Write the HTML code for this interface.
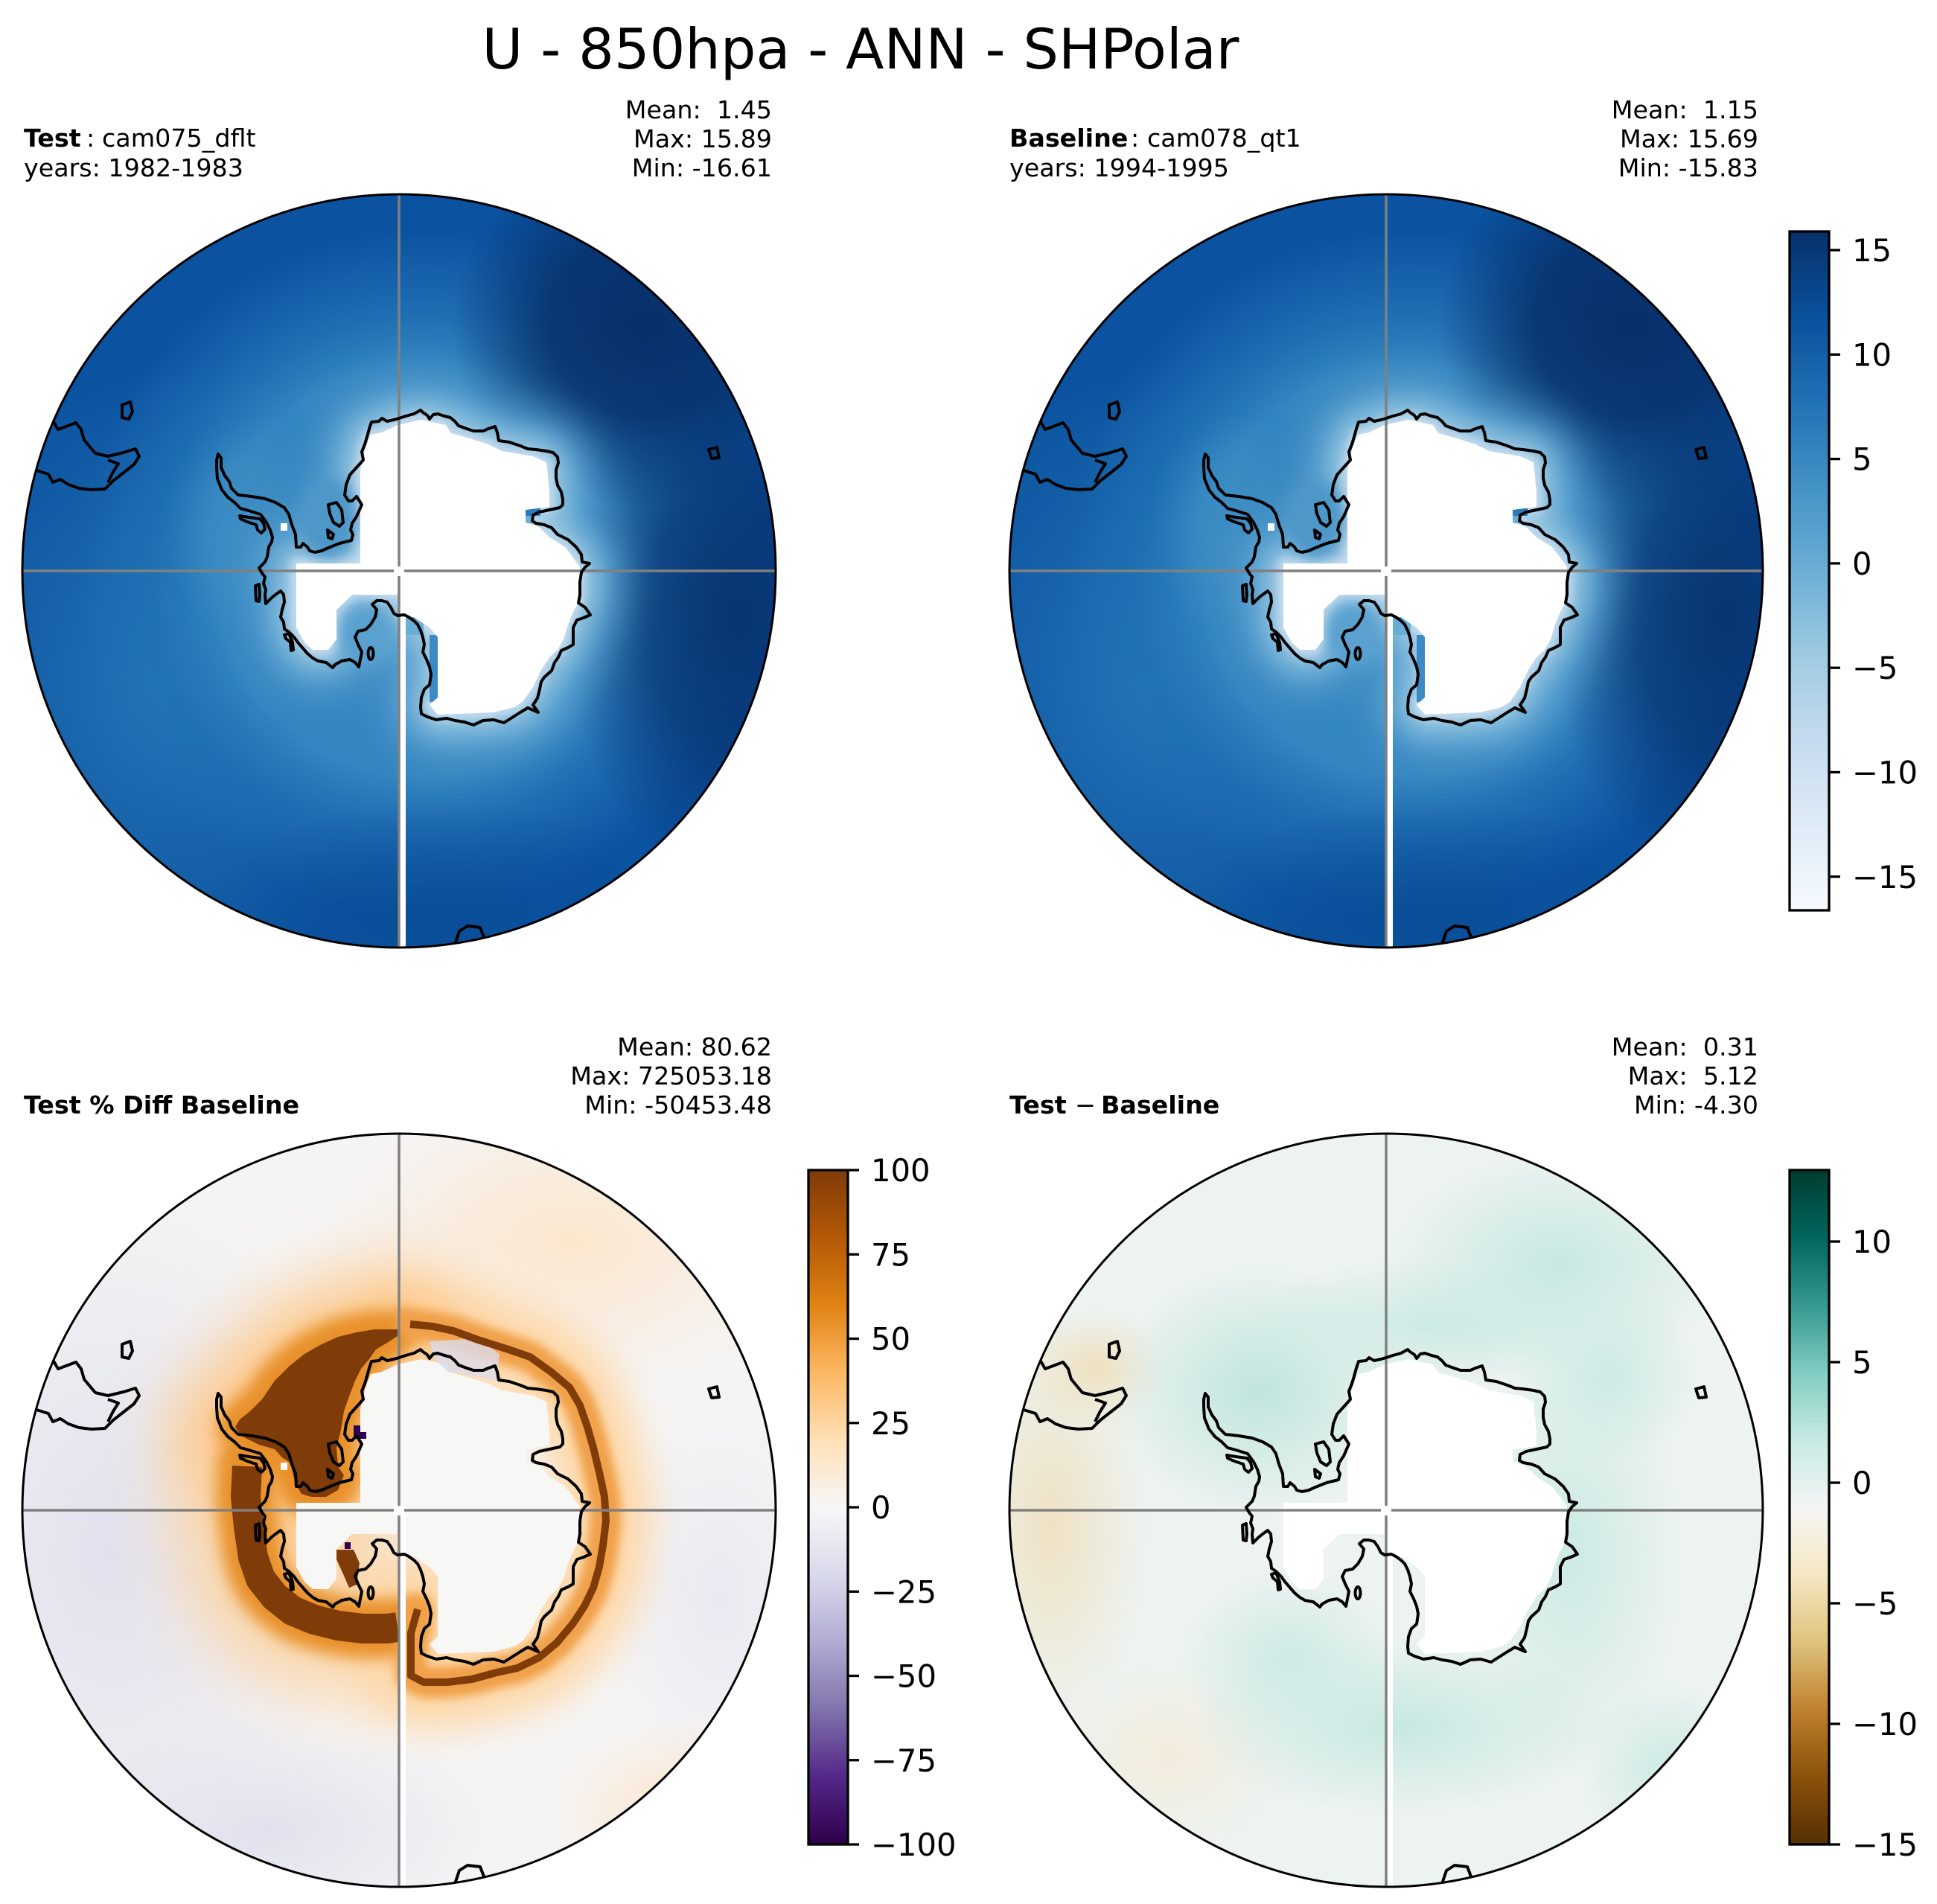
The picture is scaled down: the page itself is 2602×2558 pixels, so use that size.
<!DOCTYPE html>
<html><head><meta charset="utf-8">
<style>
html,body{margin:0;padding:0;background:#fff;}
svg{display:block;}
text{font-family:"DejaVu Sans","Liberation Sans",sans-serif;fill:#000;}
</style></head><body>
<svg width="2602" height="2558" viewBox="0 0 2602 2558" xmlns="http://www.w3.org/2000/svg" xmlns:xlink="http://www.w3.org/1999/xlink">
<defs>
<clipPath id="cc"><circle cx="0" cy="0" r="506"/></clipPath>
<filter id="bl6" filterUnits="userSpaceOnUse" x="-700" y="-700" width="1400" height="1400"><feGaussianBlur stdDeviation="6"/></filter>
<filter id="bl10" filterUnits="userSpaceOnUse" x="-700" y="-700" width="1400" height="1400"><feGaussianBlur stdDeviation="10"/></filter>
<filter id="bl18" filterUnits="userSpaceOnUse" x="-700" y="-700" width="1400" height="1400"><feGaussianBlur stdDeviation="18"/></filter>
<filter id="bl25" filterUnits="userSpaceOnUse" x="-700" y="-700" width="1400" height="1400"><feGaussianBlur stdDeviation="25"/></filter>
<filter id="bl28" filterUnits="userSpaceOnUse" x="-700" y="-700" width="1400" height="1400"><feGaussianBlur stdDeviation="28"/></filter>
<filter id="bl45" filterUnits="userSpaceOnUse" x="-700" y="-700" width="1400" height="1400"><feGaussianBlur stdDeviation="45"/></filter>

<radialGradient id="gL"><stop offset="0" stop-color="#2676b8" stop-opacity="0.95"/><stop offset="1" stop-color="#2676b8" stop-opacity="0"/></radialGradient>
<radialGradient id="gMed"><stop offset="0" stop-color="#3485c0"/><stop offset="0.6" stop-color="#3485c0"/><stop offset="0.8" stop-color="#2171b5" stop-opacity="0.7"/><stop offset="1" stop-color="#2171b5" stop-opacity="0"/></radialGradient>
<radialGradient id="gD"><stop offset="0" stop-color="#08306b"/><stop offset="0.5" stop-color="#08306b" stop-opacity="0.85"/><stop offset="1" stop-color="#08306b" stop-opacity="0"/></radialGradient>
<radialGradient id="gD2"><stop offset="0" stop-color="#08336f" stop-opacity="0.95"/><stop offset="0.5" stop-color="#08336f" stop-opacity="0.7"/><stop offset="1" stop-color="#08336f" stop-opacity="0"/></radialGradient>
<radialGradient id="gD3"><stop offset="0" stop-color="#0a4c96" stop-opacity="0.8"/><stop offset="1" stop-color="#0a4c96" stop-opacity="0"/></radialGradient>

<radialGradient id="gTan"><stop offset="0" stop-color="#efe2c4"/><stop offset="1" stop-color="#efe2c4" stop-opacity="0"/></radialGradient>
<radialGradient id="gTan2"><stop offset="0" stop-color="#efe0c0"/><stop offset="1" stop-color="#efe0c0" stop-opacity="0"/></radialGradient>
<radialGradient id="gTan3"><stop offset="0" stop-color="#f3ecdc"/><stop offset="1" stop-color="#f3ecdc" stop-opacity="0"/></radialGradient>
<radialGradient id="gTeal"><stop offset="0" stop-color="#c0e5dd"/><stop offset="1" stop-color="#c0e5dd" stop-opacity="0"/></radialGradient>
<radialGradient id="gTeal2"><stop offset="0" stop-color="#c7e8e1"/><stop offset="1" stop-color="#c7e8e1" stop-opacity="0"/></radialGradient>
<radialGradient id="gTeal3"><stop offset="0" stop-color="#cdeae4"/><stop offset="1" stop-color="#cdeae4" stop-opacity="0"/></radialGradient>

<radialGradient id="gLav"><stop offset="0" stop-color="#e1e1ee"/><stop offset="1" stop-color="#e1e1ee" stop-opacity="0"/></radialGradient>
<radialGradient id="gLav2"><stop offset="0" stop-color="#eae9f2"/><stop offset="1" stop-color="#eae9f2" stop-opacity="0"/></radialGradient>
<radialGradient id="gPeach"><stop offset="0" stop-color="#fce6cd"/><stop offset="1" stop-color="#fce6cd" stop-opacity="0"/></radialGradient>

<linearGradient id="cbBlues" x1="0" y1="1" x2="0" y2="0">
<stop offset="0" stop-color="#f7fbff"/><stop offset="0.125" stop-color="#deebf7"/><stop offset="0.25" stop-color="#c6dbef"/><stop offset="0.375" stop-color="#9ecae1"/><stop offset="0.5" stop-color="#6baed6"/><stop offset="0.625" stop-color="#4292c6"/><stop offset="0.75" stop-color="#2171b5"/><stop offset="0.875" stop-color="#08519c"/><stop offset="1" stop-color="#08306b"/>
</linearGradient>
<linearGradient id="cbPuOr" x1="0" y1="1" x2="0" y2="0">
<stop offset="0" stop-color="#2d004b"/><stop offset="0.1" stop-color="#542788"/><stop offset="0.2" stop-color="#8073ac"/><stop offset="0.3" stop-color="#b2abd2"/><stop offset="0.4" stop-color="#d8daeb"/><stop offset="0.5" stop-color="#f7f7f7"/><stop offset="0.6" stop-color="#fee0b6"/><stop offset="0.7" stop-color="#fdb863"/><stop offset="0.8" stop-color="#e08214"/><stop offset="0.9" stop-color="#b35806"/><stop offset="1" stop-color="#7f3b08"/>
</linearGradient>
<linearGradient id="cbBrBG" x1="0" y1="1" x2="0" y2="0">
<stop offset="0" stop-color="#543005"/><stop offset="0.1" stop-color="#8c510a"/><stop offset="0.2" stop-color="#bf812d"/><stop offset="0.3" stop-color="#dfc27d"/><stop offset="0.4" stop-color="#f6e8c3"/><stop offset="0.5" stop-color="#f5f5f5"/><stop offset="0.6" stop-color="#c7eae5"/><stop offset="0.7" stop-color="#80cdc1"/><stop offset="0.8" stop-color="#35978f"/><stop offset="0.9" stop-color="#01665e"/><stop offset="1" stop-color="#003c30"/>
</linearGradient>

<polygon id="coast" points="-243,-157 -239,-152 -239,-139 -234,-128 -228,-120 -225,-111 -216,-102 -198,-100 -180,-97 -166,-92 -154,-85 -148,-76 -144,-62 -139,-49 -138,-32 -132,-32 -129,-37 -123,-32 -120,-27 -113,-25 -104,-27 -95,-31 -80,-37 -64,-41 -62,-49 -65,-55 -63,-64 -57,-73 -50,-89 -57,-100 -63,-94 -68,-94 -73,-102 -71,-116 -66,-129 -57,-139 -48,-149 -50,-160 -46,-170 -43,-180 -40,-191 -37,-200 -27,-201 -23,-205 -16,-201 -7,-203 0,-205 9,-208 20,-211 29,-216 32,-213 38,-209 41,-204 46,-210 52,-211 61,-208 69,-206 75,-201 80,-195 91,-191 100,-188 113,-188 120,-191 129,-194 132,-186 134,-175 148,-173 163,-168 173,-164 184,-163 198,-161 207,-159 213,-153 214,-145 211,-136 211,-125 213,-115 218,-106 220,-96 220,-89 216,-85 202,-82 188,-79 180,-75 179,-67 184,-64 195,-62 205,-58 213,-49 227,-42 238,-32 245,-22 246,-12 256,-10 250,-5 245,2 243,15 243,32 241,43 250,49 257,59 248,63 239,66 234,76 234,89 234,99 227,103 218,107 214,116 209,123 205,134 195,143 191,149 189,159 186,171 180,180 187,190 173,184 163,190 152,197 141,204 127,200 113,201 100,207 88,203 75,201 64,198 50,200 38,196 30,192 29,183 30,170 34,159 41,153 43,139 41,129 37,119 32,109 34,99 32,89 29,80 25,72 20,67 13,62 7,59 -2,60 -7,57 -11,49 -16,42 -23,40 -30,40 -36,45 -30,52 -32,62 -38,72 -45,79 -55,81 -59,89 -55,99 -50,109 -52,119 -54,129 -59,123 -66,119 -77,121 -86,126 -89,130 -98,123 -109,121 -116,117 -123,111 -130,103 -136,96 -141,89 -148,82 -154,78 -155,69 -159,62 -157,52 -154,42 -155,32 -159,27 -166,32 -171,36 -179,44 -180,32 -179,25 -182,17 -180,8 -184,3 -188,-4 -180,-12 -177,-19 -175,-32 -171,-39 -170,-45 -173,-55 -178,-65 -186,-76 -202,-81 -213,-84 -221,-92 -230,-99 -238,-109 -244,-124 -245,-139 -245,-149"/>

<polygon id="maskp" points="-52,-136 -45,-166 -38,-183 -23,-186 -2,-196 30,-203 63,-196 70,-185 95,-178 120,-170 138,-161 180,-154 198,-146 202,-106 202,-86 170,-82 170,-65 188,-59 202,-45 223,-32 238,-12 243,-5 241,42 234,55 227,72 221,92 213,106 202,116 191,133 180,156 166,176 155,183 127,190 52,193 41,180 52,170 52,89 41,76 30,69 20,62 9,62 9,2 -2,2 -2,32 -63,32 -73,42 -84,52 -84,92 -95,106 -116,106 -127,96 -138,76 -138,-10 -52,-10"/>

<polyline id="ringLB" points="-204,-59 -206,-18 -202,22 -196,63 -186,92 -167,116 -143,135 -114,147 -82,155 -49,159 -16,159 -2,157"/>
<polyline id="ringR" points="15,-250 45,-247 73,-241 106,-229 147,-216 176,-206 204,-186 229,-165 243,-141 253,-112 261,-84 269,-51 276,-18 278,14 274,47 269,76 261,104 249,129 233,153 212,178 188,198 159,212 131,218 98,227 65,231 33,231 16,222 16,165 25,133"/>
<polygon id="blob" points="-33,-243 -2,-243 -2,-234 -16,-225 -31,-216 -41,-202 -51,-190 -59,-174 -67,-153 -74,-133 -78,-108 -84,-84 -82,-59 -74,-47 -82,-27 -98,-18 -118,-18 -131,-22 -139,-35 -143,-51 -145,-63 -157,-71 -167,-82 -188,-88 -212,-100 -220,-112 -214,-122 -200,-133 -184,-149 -167,-174 -147,-194 -127,-210 -106,-222 -82,-233 -57,-239"/>

<g id="over">
  <rect x="1" y="0" width="8" height="520" fill="#fff"/>
  <line x1="-520" y1="0" x2="520" y2="0" stroke="#808080" stroke-width="3.5"/>
  <line x1="0" y1="-520" x2="0" y2="520" stroke="#808080" stroke-width="3.5"/>
  <rect x="-7" y="-6" width="14" height="13" fill="#fff"/>
  <g fill="none" stroke="#000" stroke-width="4" stroke-linejoin="round">
    <use href="#coast" xlink:href="#coast"/>
    <polygon points="-214,-74 -202,-72 -187,-70 -182,-64 -180,-56 -185,-51 -190,-55 -192,-62 -204,-66 -213,-70"/>
    <polygon points="-95,-89 -84,-92 -77,-82 -75,-65 -80,-60 -88,-65 -93,-77"/>
    <polygon points="-96,-55 -88,-49 -90,-43 -95,-45"/>
    <polygon points="-193,20 -188,18 -187,32 -188,41 -192,40"/>
    <polygon points="-154,86 -148,84 -143,96 -142,106 -145,107 -146,96 -152,91"/>
    <ellipse cx="-38" cy="111" rx="3.5" ry="8"/>
    <polyline points="-480,-215 -465,-202 -458,-190 -434,-199 -427,-190 -423,-176 -413,-164 -408,-158 -391,-154 -370,-159 -354,-164 -349,-154 -356,-143 -370,-132 -384,-121 -395,-110 -413,-109 -430,-111 -444,-116 -455,-123 -465,-119 -471,-130 -487,-135 -500,-140"/>
    <polyline points="-391,-149 -377,-144 -384,-133 -391,-119"/>
    <polygon points="-372,-223 -361,-227 -358,-214 -363,-204 -372,-206"/>
    <polygon points="416,-163 427,-166 430,-152 420,-151"/>
    <polyline points="72,512 76,499 81,484 92,477 109,479 114,492 116,510"/>
  </g>
</g>

<g id="fTop">
  <circle r="506" fill="#0b53a0"/>
  <ellipse cx="-310" cy="150" rx="330" ry="430" fill="url(#gL)"/>
  <circle cx="30" cy="0" r="460" fill="url(#gMed)"/>
  <ellipse cx="330" cy="-330" rx="260" ry="245" fill="url(#gD)"/>
  <ellipse cx="450" cy="60" rx="230" ry="360" fill="url(#gD2)"/>
  <ellipse cx="60" cy="460" rx="330" ry="150" fill="url(#gD3)"/>
  <ellipse cx="-200" cy="-60" rx="70" ry="110" fill="#3f8fc5" opacity="0.7" filter="url(#bl25)"/>
  <use href="#maskp" xlink:href="#maskp" fill="#5fa5d3" stroke="#5fa5d3" stroke-width="105" stroke-linejoin="round" filter="url(#bl28)"/>
  <use href="#maskp" xlink:href="#maskp" fill="#9ecae1" stroke="#9ecae1" stroke-width="44" stroke-linejoin="round" filter="url(#bl18)"/>
  <use href="#maskp" xlink:href="#maskp" fill="#c6dbef" stroke="#c6dbef" stroke-width="14" stroke-linejoin="round" filter="url(#bl6)"/>
  <ellipse cx="-45" cy="85" rx="38" ry="42" fill="#5aa1cf" filter="url(#bl10)"/>
  <ellipse cx="-95" cy="-70" rx="40" ry="55" fill="#4d97c9" filter="url(#bl10)"/>
  <rect x="41" y="86" width="12" height="90" fill="#3c8ac3"/>
  <rect x="9" y="62" width="24" height="24" fill="#6aaed6"/>
  <rect x="170" y="-85" width="20" height="11" fill="#2b7bba"/>
  <rect x="159" y="-74" width="18" height="10" fill="#6baed6"/>
  <use href="#maskp" xlink:href="#maskp" fill="#fff"/>
  <rect x="-159" y="-64" width="9" height="10" fill="#fff"/>
</g>

<g id="fBR">
  <circle r="506" fill="#edf3f1"/>
  <ellipse cx="-450" cy="20" rx="130" ry="280" fill="url(#gTan)"/>
  <ellipse cx="-390" cy="-190" rx="100" ry="80" fill="url(#gTan2)"/>
  <ellipse cx="-290" cy="330" rx="170" ry="130" fill="url(#gTan3)"/>
  <ellipse cx="-170" cy="-160" rx="200" ry="170" fill="url(#gTeal)"/>
  <ellipse cx="60" cy="-250" rx="250" ry="90" fill="url(#gTeal3)"/>
  <ellipse cx="230" cy="-330" rx="230" ry="150" fill="url(#gTeal2)"/>
  <ellipse cx="250" cy="60" rx="150" ry="300" fill="url(#gTeal3)"/>
  <ellipse cx="20" cy="290" rx="280" ry="120" fill="url(#gTeal2)"/>
  <ellipse cx="-130" cy="200" rx="150" ry="120" fill="url(#gTeal3)"/>
  <ellipse cx="380" cy="350" rx="120" ry="120" fill="url(#gTeal3)"/>
  <ellipse cx="300" cy="-180" rx="120" ry="120" fill="url(#gTeal3)"/>
  <use href="#maskp" xlink:href="#maskp" fill="#fff"/>
</g>

<g id="fBL">
  <circle r="506" fill="#f5f4f4"/>
  <ellipse cx="-390" cy="60" rx="330" ry="520" fill="url(#gLav)"/>
  <ellipse cx="-180" cy="430" rx="320" ry="160" fill="url(#gLav)"/>
  <ellipse cx="430" cy="120" rx="160" ry="260" fill="url(#gLav2)"/>
  <ellipse cx="230" cy="-360" rx="330" ry="200" fill="url(#gPeach)"/>
  <ellipse cx="390" cy="410" rx="190" ry="130" fill="url(#gPeach)"/>
  <g fill="none" stroke-linecap="round" stroke-linejoin="round">
    <use href="#ringLB" xlink:href="#ringLB" stroke="#fdd3a0" stroke-width="190" filter="url(#bl45)" opacity="0.9"/>
    <use href="#ringR" xlink:href="#ringR" stroke="#fed8a8" stroke-width="120" filter="url(#bl25)"/>
  </g>
  <use href="#blob" xlink:href="#blob" fill="#fdc88a" stroke="#fdc88a" stroke-width="150" stroke-linejoin="round" filter="url(#bl45)"/>
  <use href="#blob" xlink:href="#blob" fill="#e8912a" stroke="#e8912a" stroke-width="50" stroke-linejoin="round" filter="url(#bl10)"/>
  <g fill="none" stroke-linecap="round" stroke-linejoin="round">
    <use href="#ringLB" xlink:href="#ringLB" stroke="#e8912a" stroke-width="80" filter="url(#bl10)"/>
    <use href="#ringR" xlink:href="#ringR" stroke="#f0a04a" stroke-width="42" filter="url(#bl6)"/>
  </g>
  <use href="#maskp" xlink:href="#maskp" fill="#f7f7f5"/>
  <polygon points="41,-227 106,-231 135,-210 131,-174 90,-182 65,-186 49,-202" fill="#dcdbeb" opacity="0.8"/>
  <use href="#blob" xlink:href="#blob" fill="#7f3b08"/>
  <g fill="none" stroke="#7f3b08" stroke-linejoin="round">
    <use href="#ringLB" xlink:href="#ringLB" stroke-width="40"/>
    <use href="#ringR" xlink:href="#ringR" stroke-width="10"/>
  </g>
  <polygon points="-84,53 -61,53 -53,71 -57,100 -67,104 -74,88 -84,66" fill="#7f3b08"/>
  <rect x="-159" y="-64" width="9" height="10" fill="#fff"/>
  <rect x="-61" y="-114" width="9" height="18" fill="#2d004b"/>
  <rect x="-53" y="-105" width="9" height="9" fill="#2d004b"/>
  <rect x="-73" y="43" width="8" height="9" fill="#2d004b"/>
</g>
</defs>

<!-- Title -->
<text x="1156" y="92" font-size="75" text-anchor="middle">U - 850hpa - ANN - SHPolar</text>

<!-- Top-left panel -->
<text x="32" y="197" font-size="33.3"><tspan font-weight="bold">Test</tspan><tspan x="116">:</tspan><tspan x="137">cam075_dflt</tspan></text>
<text x="32" y="237" font-size="33.3">years: 1982-1983</text>
<text x="1037" y="159" font-size="33.3" text-anchor="end" xml:space="preserve">Mean:  1.45</text>
<text x="1037" y="198" font-size="33.3" text-anchor="end">Max: 15.89</text>
<text x="1037" y="237" font-size="33.3" text-anchor="end">Min: -16.61</text>
<g transform="translate(536,767)">
  <g clip-path="url(#cc)">
    <use href="#fTop" xlink:href="#fTop"/>
    <use href="#over" xlink:href="#over"/>
  </g>
  <circle r="506" fill="none" stroke="#000" stroke-width="3"/>
</g>

<!-- Top-right panel -->
<text x="1356" y="197" font-size="33.3"><tspan font-weight="bold">Baseline</tspan><tspan x="1519">:</tspan><tspan x="1541">cam078_qt1</tspan></text>
<text x="1356" y="237" font-size="33.3">years: 1994-1995</text>
<text x="2362" y="159" font-size="33.3" text-anchor="end" xml:space="preserve">Mean:  1.15</text>
<text x="2362" y="198" font-size="33.3" text-anchor="end">Max: 15.69</text>
<text x="2362" y="237" font-size="33.3" text-anchor="end">Min: -15.83</text>
<g transform="translate(1862,767)">
  <g clip-path="url(#cc)">
    <use href="#fTop" xlink:href="#fTop"/>
    <use href="#over" xlink:href="#over"/>
  </g>
  <circle r="506" fill="none" stroke="#000" stroke-width="3"/>
</g>

<!-- Bottom-left panel -->
<text x="32" y="1496" font-size="33.3" font-weight="bold">Test % Diff Baseline</text>
<text x="1037" y="1418" font-size="33.3" text-anchor="end">Mean: 80.62</text>
<text x="1037" y="1457" font-size="33.3" text-anchor="end">Max: 725053.18</text>
<text x="1037" y="1496" font-size="33.3" text-anchor="end">Min: -50453.48</text>
<g transform="translate(536,2029)">
  <g clip-path="url(#cc)">
    <use href="#fBL" xlink:href="#fBL"/>
    <use href="#over" xlink:href="#over"/>
  </g>
  <circle r="506" fill="none" stroke="#000" stroke-width="3"/>
</g>

<!-- Bottom-right panel -->
<text x="1356" y="1496" font-size="33.3"><tspan font-weight="bold">Test</tspan><tspan x="1444">−</tspan><tspan x="1479" font-weight="bold">Baseline</tspan></text>
<text x="2362" y="1418" font-size="33.3" text-anchor="end" xml:space="preserve">Mean:  0.31</text>
<text x="2362" y="1457" font-size="33.3" text-anchor="end" xml:space="preserve">Max:  5.12</text>
<text x="2362" y="1496" font-size="33.3" text-anchor="end">Min: -4.30</text>
<g transform="translate(1862,2029)">
  <g clip-path="url(#cc)">
    <use href="#fBR" xlink:href="#fBR"/>
    <use href="#over" xlink:href="#over"/>
  </g>
  <circle r="506" fill="none" stroke="#000" stroke-width="3"/>
</g>

<!-- Colorbar top-right -->
<rect x="2404" y="311" width="53" height="912" fill="url(#cbBlues)" stroke="#000" stroke-width="3.3"/>
<g stroke="#000" stroke-width="3.3">
  <line x1="2457" y1="336" x2="2472" y2="336"/>
  <line x1="2457" y1="476.3" x2="2472" y2="476.3"/>
  <line x1="2457" y1="616.6" x2="2472" y2="616.6"/>
  <line x1="2457" y1="756.9" x2="2472" y2="756.9"/>
  <line x1="2457" y1="897.2" x2="2472" y2="897.2"/>
  <line x1="2457" y1="1037.5" x2="2472" y2="1037.5"/>
  <line x1="2457" y1="1177.8" x2="2472" y2="1177.8"/>
</g>
<g font-size="41.7">
  <text x="2488" y="351">15</text>
  <text x="2488" y="491.3">10</text>
  <text x="2488" y="631.6">5</text>
  <text x="2488" y="771.9">0</text>
  <text x="2488" y="912.2">−5</text>
  <text x="2488" y="1052.5">−10</text>
  <text x="2488" y="1192.8">−15</text>
</g>

<!-- Colorbar bottom-left -->
<rect x="1086" y="1572" width="53" height="906" fill="url(#cbPuOr)" stroke="#000" stroke-width="3.3"/>
<g stroke="#000" stroke-width="3.3">
  <line x1="1139" y1="1572" x2="1154" y2="1572"/>
  <line x1="1139" y1="1685.25" x2="1154" y2="1685.25"/>
  <line x1="1139" y1="1798.5" x2="1154" y2="1798.5"/>
  <line x1="1139" y1="1911.75" x2="1154" y2="1911.75"/>
  <line x1="1139" y1="2025" x2="1154" y2="2025"/>
  <line x1="1139" y1="2138.25" x2="1154" y2="2138.25"/>
  <line x1="1139" y1="2251.5" x2="1154" y2="2251.5"/>
  <line x1="1139" y1="2364.75" x2="1154" y2="2364.75"/>
  <line x1="1139" y1="2478" x2="1154" y2="2478"/>
</g>
<g font-size="41.7">
  <text x="1170" y="1587">100</text>
  <text x="1170" y="1700.25">75</text>
  <text x="1170" y="1813.5">50</text>
  <text x="1170" y="1926.75">25</text>
  <text x="1170" y="2040">0</text>
  <text x="1170" y="2153.25">−25</text>
  <text x="1170" y="2266.5">−50</text>
  <text x="1170" y="2379.75">−75</text>
  <text x="1170" y="2493">−100</text>
</g>

<!-- Colorbar bottom-right -->
<rect x="2404" y="1572" width="53" height="906" fill="url(#cbBrBG)" stroke="#000" stroke-width="3.3"/>
<g stroke="#000" stroke-width="3.3">
  <line x1="2457" y1="1668" x2="2472" y2="1668"/>
  <line x1="2457" y1="1830" x2="2472" y2="1830"/>
  <line x1="2457" y1="1992" x2="2472" y2="1992"/>
  <line x1="2457" y1="2154" x2="2472" y2="2154"/>
  <line x1="2457" y1="2316" x2="2472" y2="2316"/>
  <line x1="2457" y1="2478" x2="2472" y2="2478"/>
</g>
<g font-size="41.7">
  <text x="2488" y="1683">10</text>
  <text x="2488" y="1845">5</text>
  <text x="2488" y="2007">0</text>
  <text x="2488" y="2169">−5</text>
  <text x="2488" y="2331">−10</text>
  <text x="2488" y="2493">−15</text>
</g>
</svg>
</body></html>
